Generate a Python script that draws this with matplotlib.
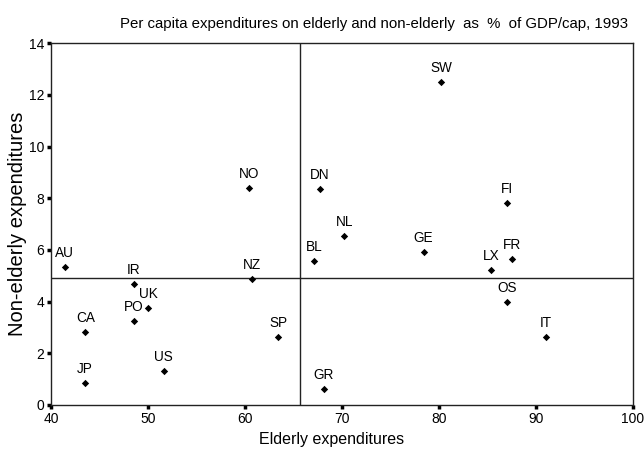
import matplotlib
matplotlib.use("Agg")
import matplotlib.pyplot as plt

plt.rcParams['font.family'] = ['Liberation Sans', 'DejaVu Sans']

countries = ["AU", "IR", "NZ", "NO", "UK", "PO", "CA", "JP", "US", "SP",
             "GR", "DN", "BL", "NL", "GE", "SW", "FI", "FR", "LX", "OS", "IT"]
elderly = [41.4, 48.5, 60.7, 60.4, 50.0, 48.5, 43.5, 43.5, 51.6, 63.4,
           68.1, 67.7, 67.1, 70.2, 78.4, 80.2, 87.0, 87.5, 85.4, 87.0, 91.0]
nonelderly = [5.33, 4.68, 4.86, 8.41, 3.77, 3.25, 2.84, 0.86, 1.33, 2.62,
              0.61, 8.37, 5.57, 6.54, 5.91, 12.49, 7.81, 5.66, 5.21, 4.00, 2.62]
ref_x = 65.7
ref_y = 4.90
x_ticks = [40, 50, 60, 70, 80, 90, 100]
y_ticks = [0, 2, 4, 6, 8, 10, 12, 14]

fig = plt.figure(figsize=(6.44, 4.57), dpi=100)
ax = fig.add_axes([0.0797, 0.1138, 0.9033, 0.7915])

ax.scatter(elderly, nonelderly, marker='D', s=14, color='black', zorder=3, linewidths=0)
for c, x, y in zip(countries, elderly, nonelderly):
    ax.annotate(c, (x, y), xytext=(0, 5), textcoords='offset points',
                ha='center', va='bottom', fontsize=9.8, color='black')

ax.axvline(ref_x, color='#222222', lw=1.0)
ax.axhline(ref_y, color='#222222', lw=1.0)

ax.set_xlim(40, 100)
ax.set_ylim(0, 14)
ax.set_xticks(x_ticks)
ax.set_yticks(y_ticks)
ax.tick_params(direction='out', length=3, width=2.5, labelsize=10, pad=2, color='black')
for s in ax.spines.values():
    s.set_linewidth(1.0)
    s.set_color('#222222')

ax.set_xlabel("Elderly expenditures", fontsize=11.5, labelpad=6)
ax.xaxis.set_label_coords(0.481, -0.075)
ax.set_ylabel("Non-elderly expenditures", fontsize=14.5, labelpad=1)
fig.text(0.5815, 0.948, "Per capita expenditures on elderly and non-elderly  as  %  of GDP/cap, 1993",
         ha='center', va='center', fontsize=10.8)

fig.savefig("out.png", dpi=100)
